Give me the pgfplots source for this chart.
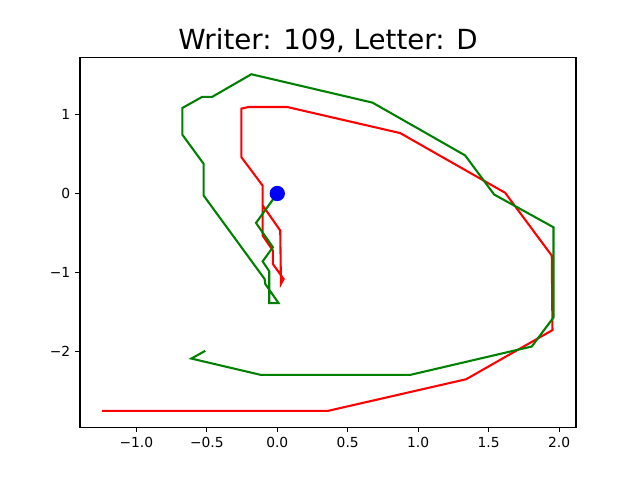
\documentclass[border=0pt]{standalone}
\usepackage{fontspec}
\setmainfont{DejaVu Sans}
\usepackage{pgfplots}
\pgfplotsset{compat=1.18}

\begin{document}
\begin{tikzpicture}
\definecolor{mplgreen}{rgb}{0,0.5,0}
\begin{axis}[
  scale only axis,
  width=357.12bp, height=266.112bp,
  xmin=-1.4, xmax=2.12,
  ymin=-2.963, ymax=1.723,
  xtick={-1,-0.5,0,0.5,1,1.5,2},
  xticklabels={−1.0,−0.5,0.0,0.5,1.0,1.5,2.0},
  ytick={-2,-1,0,1},
  yticklabels={−2,−1,0,1},
  tick pos=left,
  tick align=outside,
  major tick length=3.5bp,
  every tick/.style={black, line width=0.8bp},
  axis line style={line width=0.8bp},
  tick label style={font=\fontsize{10}{12}\selectfont},
  xtick style={black}, ytick style={black},
  xticklabel style={yshift=-0.5bp},
  title={Writer: 109, Letter: D},
  every axis title/.style={at={(0.5,1)}, anchor=base, yshift=5.5bp, inner sep=0pt, font=\fontsize{20}{24}\selectfont},
]
% red trajectory
\addplot[red, line width=1.5bp, no marks] coordinates {
  (-1.243,-2.757) (0.357,-2.757) (1.340,-2.355) (1.953,-1.732) (1.948,-0.788)
  (1.617,0.009) (0.872,0.766) (0.069,1.097) (-0.204,1.097) (-0.255,1.076)
  (-0.255,0.461) (-0.104,0.100) (-0.104,-0.534) (-0.031,-0.724) (-0.031,-0.894)
  (0.045,-1.084) (0.026,-1.147) (0.021,-0.470) (-0.104,-0.150)
};
% green trajectory
\addplot[mplgreen, line width=1.5bp, no marks] coordinates {
  (0,0) (-0.151,-0.373) (-0.031,-0.682) (-0.104,-0.860) (-0.057,-0.987)
  (-0.057,-1.389) (0.009,-1.389) (-0.085,-1.148) (-0.090,-1.084) (-0.523,-0.025)
  (-0.523,0.377) (-0.674,0.746) (-0.674,1.084) (-0.534,1.224) (-0.463,1.224)
  (-0.184,1.512) (0.676,1.152) (1.333,0.483) (1.539,-0.013) (1.960,-0.428)
  (1.960,-1.572) (1.806,-1.940) (0.943,-2.300) (-0.116,-2.300) (-0.610,-2.093)
  (-0.511,-1.995)
};
% start point
\addplot[only marks, mark=*, mark size=5bp, blue, mark options={fill=blue, draw=blue, line width=1bp}] coordinates {(0,0)};
\end{axis}
\pgfresetboundingbox
\path (-57.6bp,-38.016bp) rectangle (403.2bp,307.584bp);
\end{tikzpicture}
\end{document}
